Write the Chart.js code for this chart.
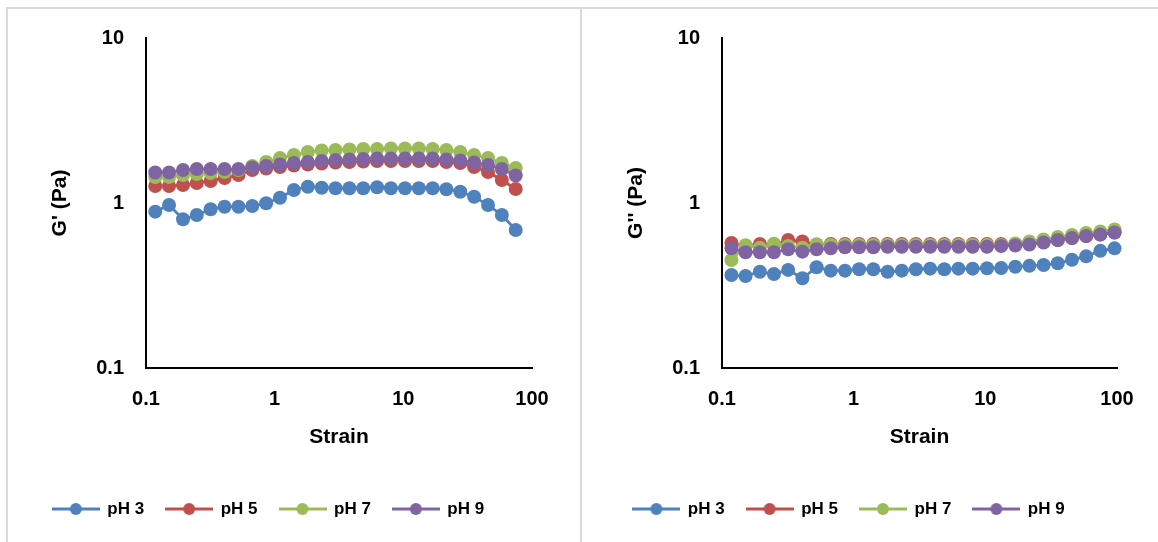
<!DOCTYPE html>
<html><head><meta charset="utf-8">
<script src="https://cdn.jsdelivr.net/npm/chart.js@4.4.1/dist/chart.umd.min.js"></script>
<style>
html,body{margin:0;padding:0;background:#fff;}
body{width:1158px;height:542px;position:relative;overflow:hidden;}
.frame{position:absolute;background:#d9d9d9;}
#c1{position:absolute;left:0;top:0;}
#c2{position:absolute;left:580px;top:0;}
</style></head><body>
<div class="frame" style="left:6px;top:7px;width:1152px;height:2px"></div>
<div class="frame" style="left:6px;top:7px;width:2px;height:535px"></div>
<div class="frame" style="left:580px;top:7px;width:2px;height:535px"></div>
<canvas id="c1" width="580" height="542"></canvas>
<canvas id="c2" width="578" height="542"></canvas>
<script>
// ---- data ----
const strain = [0.118, 0.151, 0.194, 0.248, 0.318, 0.408, 0.523, 0.670, 0.859, 1.10, 1.41, 1.81, 2.32, 2.97, 3.81, 4.88, 6.25, 8.01, 10.3, 13.2, 16.9, 21.6, 27.7, 35.5, 45.5, 58.3, 74.7, 95.8];
const xTickValues = [0.1, 1, 10, 100];
const yTickValues = [0.1, 1, 10];
const seriesLabels = ['pH 3', 'pH 5', 'pH 7', 'pH 9'];
const seriesColors = ['#4F81BD', '#C0504D', '#9BBB59', '#8064A2'];

// G' (first 27 strain points)
const gp_pH3 = [0.886, 0.972, 0.797, 0.846, 0.916, 0.950, 0.950, 0.958, 0.996, 1.077, 1.199, 1.255, 1.238, 1.228, 1.228, 1.228, 1.245, 1.228, 1.228, 1.228, 1.228, 1.211, 1.171, 1.092, 0.972, 0.846, 0.686];
const gp_pH5 = [1.268, 1.268, 1.285, 1.322, 1.36, 1.418, 1.478, 1.585, 1.618, 1.653, 1.688, 1.712, 1.735, 1.76, 1.772, 1.785, 1.797, 1.797, 1.797, 1.797, 1.797, 1.772, 1.747, 1.653, 1.541, 1.378, 1.216];
const gp_pH7 = [1.437, 1.437, 1.478, 1.499, 1.52, 1.541, 1.585, 1.676, 1.772, 1.874, 1.954, 2.037, 2.08, 2.096, 2.11, 2.125, 2.125, 2.14, 2.14, 2.14, 2.125, 2.096, 2.037, 1.954, 1.874, 1.747, 1.63];
const gp_pH9 = [1.53, 1.53, 1.585, 1.607, 1.607, 1.607, 1.607, 1.641, 1.676, 1.712, 1.747, 1.772, 1.797, 1.822, 1.835, 1.848, 1.861, 1.861, 1.861, 1.861, 1.861, 1.835, 1.81, 1.76, 1.699, 1.607, 1.468];

// G'' (28 strain points)
const gpp_pH3 = [0.366, 0.361, 0.383, 0.371, 0.393, 0.350, 0.408, 0.389, 0.389, 0.397, 0.397, 0.383, 0.389, 0.397, 0.400, 0.397, 0.400, 0.400, 0.402, 0.404, 0.411, 0.416, 0.421, 0.431, 0.453, 0.475, 0.513, 0.531];
const gpp_pH5 = [0.572, 0.549, 0.564, 0.557, 0.597, 0.584, 0.560, 0.564, 0.564, 0.564, 0.564, 0.564, 0.564, 0.564, 0.564, 0.564, 0.564, 0.564, 0.564, 0.564, 0.564, 0.568, 0.580, 0.597, 0.614, 0.631, 0.644, 0.663];
const gpp_pH7 = [0.451, 0.554, 0.536, 0.566, 0.549, 0.536, 0.5605, 0.5565, 0.5565, 0.5565, 0.5565, 0.5565, 0.5565, 0.5565, 0.5565, 0.5565, 0.5565, 0.5565, 0.5565, 0.5565, 0.568, 0.584, 0.601, 0.622, 0.640, 0.658, 0.672, 0.691];
const gpp_pH9 = [0.531, 0.503, 0.503, 0.503, 0.524, 0.507, 0.524, 0.531, 0.539, 0.539, 0.539, 0.5435, 0.5435, 0.5435, 0.5435, 0.5435, 0.5435, 0.5435, 0.5435, 0.549, 0.553, 0.560, 0.576, 0.597, 0.614, 0.631, 0.644, 0.663];

// ---- rendering ----
const FONT = "'Liberation Sans', Arial, sans-serif";
Chart.defaults.font.family = FONT;
Chart.defaults.color = '#000';

function legendIcon(color) {
  const c = document.createElement('canvas');
  c.width = 48; c.height = 14;
  const g = c.getContext('2d');
  g.strokeStyle = color; g.lineWidth = 3;
  g.beginPath(); g.moveTo(0, 7); g.lineTo(48, 7); g.stroke();
  g.fillStyle = color; g.beginPath(); g.arc(24, 7, 6, 0, Math.PI * 2); g.fill();
  return c;
}
const icons = seriesColors.map(legendIcon);

function makeChart(id, series, yTitle, geom) {
  const datasets = series.map((vals, i) => ({
    label: seriesLabels[i],
    data: vals.map((v, j) => ({x: strain[j], y: v})),
    borderColor: seriesColors[i],
    backgroundColor: seriesColors[i],
    pointBackgroundColor: seriesColors[i],
    pointBorderWidth: 0,
    pointRadius: 7,
    pointHoverRadius: 7,
    borderWidth: 2.75,
    tension: 0,
    clip: false,
    order: series.length - 1 - i
  }));
  return new Chart(document.getElementById(id), {
    type: 'line',
    data: {datasets},
    options: {
      responsive: false,
      animation: false,
      events: [],
      layout: {padding: {left: geom.padL, right: geom.padR, top: 38, bottom: 14.5}},
      plugins: {
        tooltip: {enabled: false},
        legend: {
          position: 'bottom',
          align: 'center',
          labels: {
            usePointStyle: true,
            pointStyleWidth: 46,
            padding: 22,
            color: '#000',
            font: {size: 17, weight: 'bold', family: FONT},
            generateLabels: (chart) => chart.data.datasets.map((ds, i) => ({
              text: ds.label,
              fillStyle: seriesColors[i],
              strokeStyle: seriesColors[i],
              lineWidth: 0,
              pointStyle: icons[i],
              fontColor: '#000',
              hidden: false,
              datasetIndex: i
            }))
          }
        }
      },
      scales: {
        x: {
          type: 'logarithmic',
          position: 'bottom',
          min: 0.1, max: 100,
          afterBuildTicks: (s) => { s.ticks = xTickValues.map(v => ({value: v})); },
          afterFit: (s) => { s.height = 110.5; },
          grid: {display: false, drawTicks: false},
          border: {display: true, color: '#000', width: 2},
          ticks: {autoSkip: false, maxRotation: 0, padding: 19, color: '#000',
                  font: {size: 20, weight: 'bold', family: FONT},
                  callback: (v) => String(v)},
          title: {display: true, text: 'Strain', color: '#000',
                  font: {size: 21, weight: 'bold', family: FONT},
                  padding: {top: 0, bottom: 29}}
        },
        y: {
          type: 'logarithmic',
          position: 'left',
          min: 0.1, max: 10,
          afterBuildTicks: (s) => { s.ticks = yTickValues.map(v => ({value: v})); },
          afterFit: (s) => { s.width = geom.yW; },
          grid: {display: false, drawTicks: false},
          border: {display: true, color: '#000', width: 2},
          ticks: {autoSkip: false, padding: 22, color: '#000',
                  font: {size: 20, weight: 'bold', family: FONT},
                  callback: (v) => String(v)},
          title: {display: true, text: yTitle, color: '#000',
                  font: {size: 21, weight: 'bold', family: FONT},
                  padding: {top: 43, bottom: 0}}
        }
      }
    }
  });
}

makeChart('c1', [gp_pH3, gp_pH5, gp_pH7, gp_pH9], "G' (Pa)", {padL: 5, yW: 141, padR: 48});
makeChart('c2', [gpp_pH3, gpp_pH5, gpp_pH7, gpp_pH9], "G'' (Pa)", {padL: 1, yW: 141, padR: 41});
</script>
</body></html>
